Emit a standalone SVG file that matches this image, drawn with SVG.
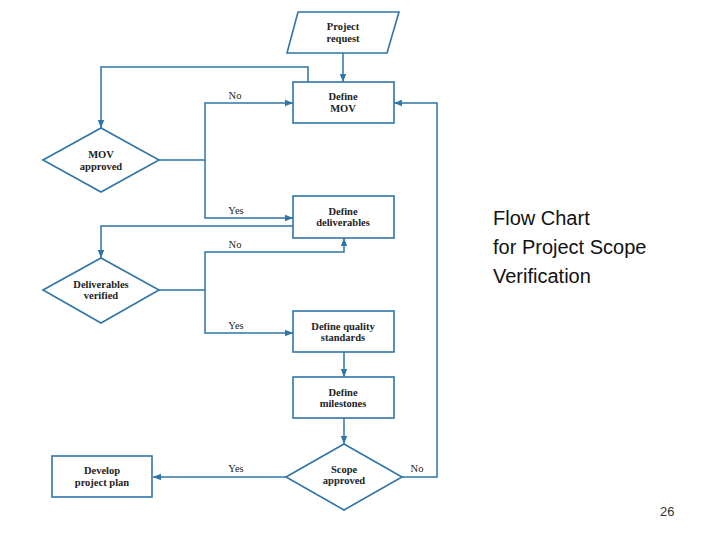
<svg xmlns="http://www.w3.org/2000/svg" width="720" height="540" viewBox="0 0 720 540">
<style>
.s{fill:#fff;stroke:#2f75a8;stroke-width:1.6}
.c{fill:none;stroke:#2f75a8;stroke-width:1.5}
.t{font-family:"Liberation Serif",serif;font-size:10.5px;fill:#222;text-anchor:middle}
.b{font-weight:bold}
.l{font-family:"Liberation Serif",serif;font-size:10.5px;fill:#222;text-anchor:middle}
.h{font-family:"Liberation Sans",Arial,sans-serif;font-size:20px;fill:#111}
</style>
<defs><marker id="a" viewBox="0 0 10 10" refX="10" refY="5" markerWidth="8" markerHeight="8" markerUnits="userSpaceOnUse" orient="auto"><path d="M0,1L10,5L0,9z" fill="#2f75a8"/></marker></defs>
<rect width="720" height="540" fill="#fff"/>
<g id="connectors">
<path class="c" d="M343,53V82" marker-end="url(#a)"/>
<path class="c" d="M308,82V67H101V128" marker-end="url(#a)"/>
<path class="c" d="M159,160H205V103H293" marker-end="url(#a)"/>
<path class="c" d="M205,160V218H293" marker-end="url(#a)"/>
<path class="c" d="M293,226H101V258" marker-end="url(#a)"/>
<path class="c" d="M159,290H205V252H344V238" marker-end="url(#a)"/>
<path class="c" d="M205,290V333H293" marker-end="url(#a)"/>
<path class="c" d="M344,352V377" marker-end="url(#a)"/>
<path class="c" d="M344,418V444" marker-end="url(#a)"/>
<path class="c" d="M286,477H153" marker-end="url(#a)"/>
<path class="c" d="M402,477H437V103H394" marker-end="url(#a)"/>
<text class="l" x="235" y="99">No</text>
<text class="l" x="236" y="214">Yes</text>
<text class="l" x="235" y="248">No</text>
<text class="l" x="236" y="329">Yes</text>
<text class="l" x="236" y="472">Yes</text>
<text class="l" x="417" y="472">No</text>
</g>
<g id="request"><path class="s" d="M298,12H399L387,53H287Z"/><text class="t b" x="343" y="30">Project</text><text class="t b" x="343" y="42">request</text></g>
<g id="mov"><rect class="s" x="293" y="82" width="101" height="41"/><text class="t b" x="343" y="100">Define</text><text class="t b" x="343" y="112">MOV</text></g>
<g id="movq"><path class="s" d="M43,160L101,128L159,160L101,192Z"/><text class="t b" x="101" y="158">MOV</text><text class="t b" x="101" y="170">approved</text></g>
<g id="deliv"><rect class="s" x="293" y="196" width="101" height="42"/><text class="t b" x="343" y="215">Define</text><text class="t b" x="343" y="226">deliverables</text></g>
<g id="delivq"><path class="s" d="M43,290L101,258L159,290L101,323Z"/><text class="t b" x="101" y="288">Deliverables</text><text class="t b" x="101" y="299">verified</text></g>
<g id="quality"><rect class="s" x="293" y="311" width="101" height="41"/><text class="t b" x="343" y="330">Define quality</text><text class="t b" x="343" y="341">standards</text></g>
<g id="miles"><rect class="s" x="293" y="377" width="101" height="41"/><text class="t b" x="343" y="396">Define</text><text class="t b" x="343" y="407">milestones</text></g>
<g id="scopeq"><path class="s" d="M286,477L344,444L402,477L344,510Z"/><text class="t b" x="344" y="473">Scope</text><text class="t b" x="344" y="484">approved</text></g>
<g id="plan"><rect class="s" x="52" y="456" width="100" height="41"/><text class="t b" x="102" y="474">Develop</text><text class="t b" x="102" y="486">project plan</text></g>
<g id="title"><text class="h" x="493" y="225">Flow Chart</text><text class="h" x="493" y="254">for Project Scope</text><text class="h" x="493" y="283">Verification</text></g>
<text x="660" y="516" font-family="Liberation Sans,Arial,sans-serif" font-size="13" fill="#333">26</text>
</svg>
